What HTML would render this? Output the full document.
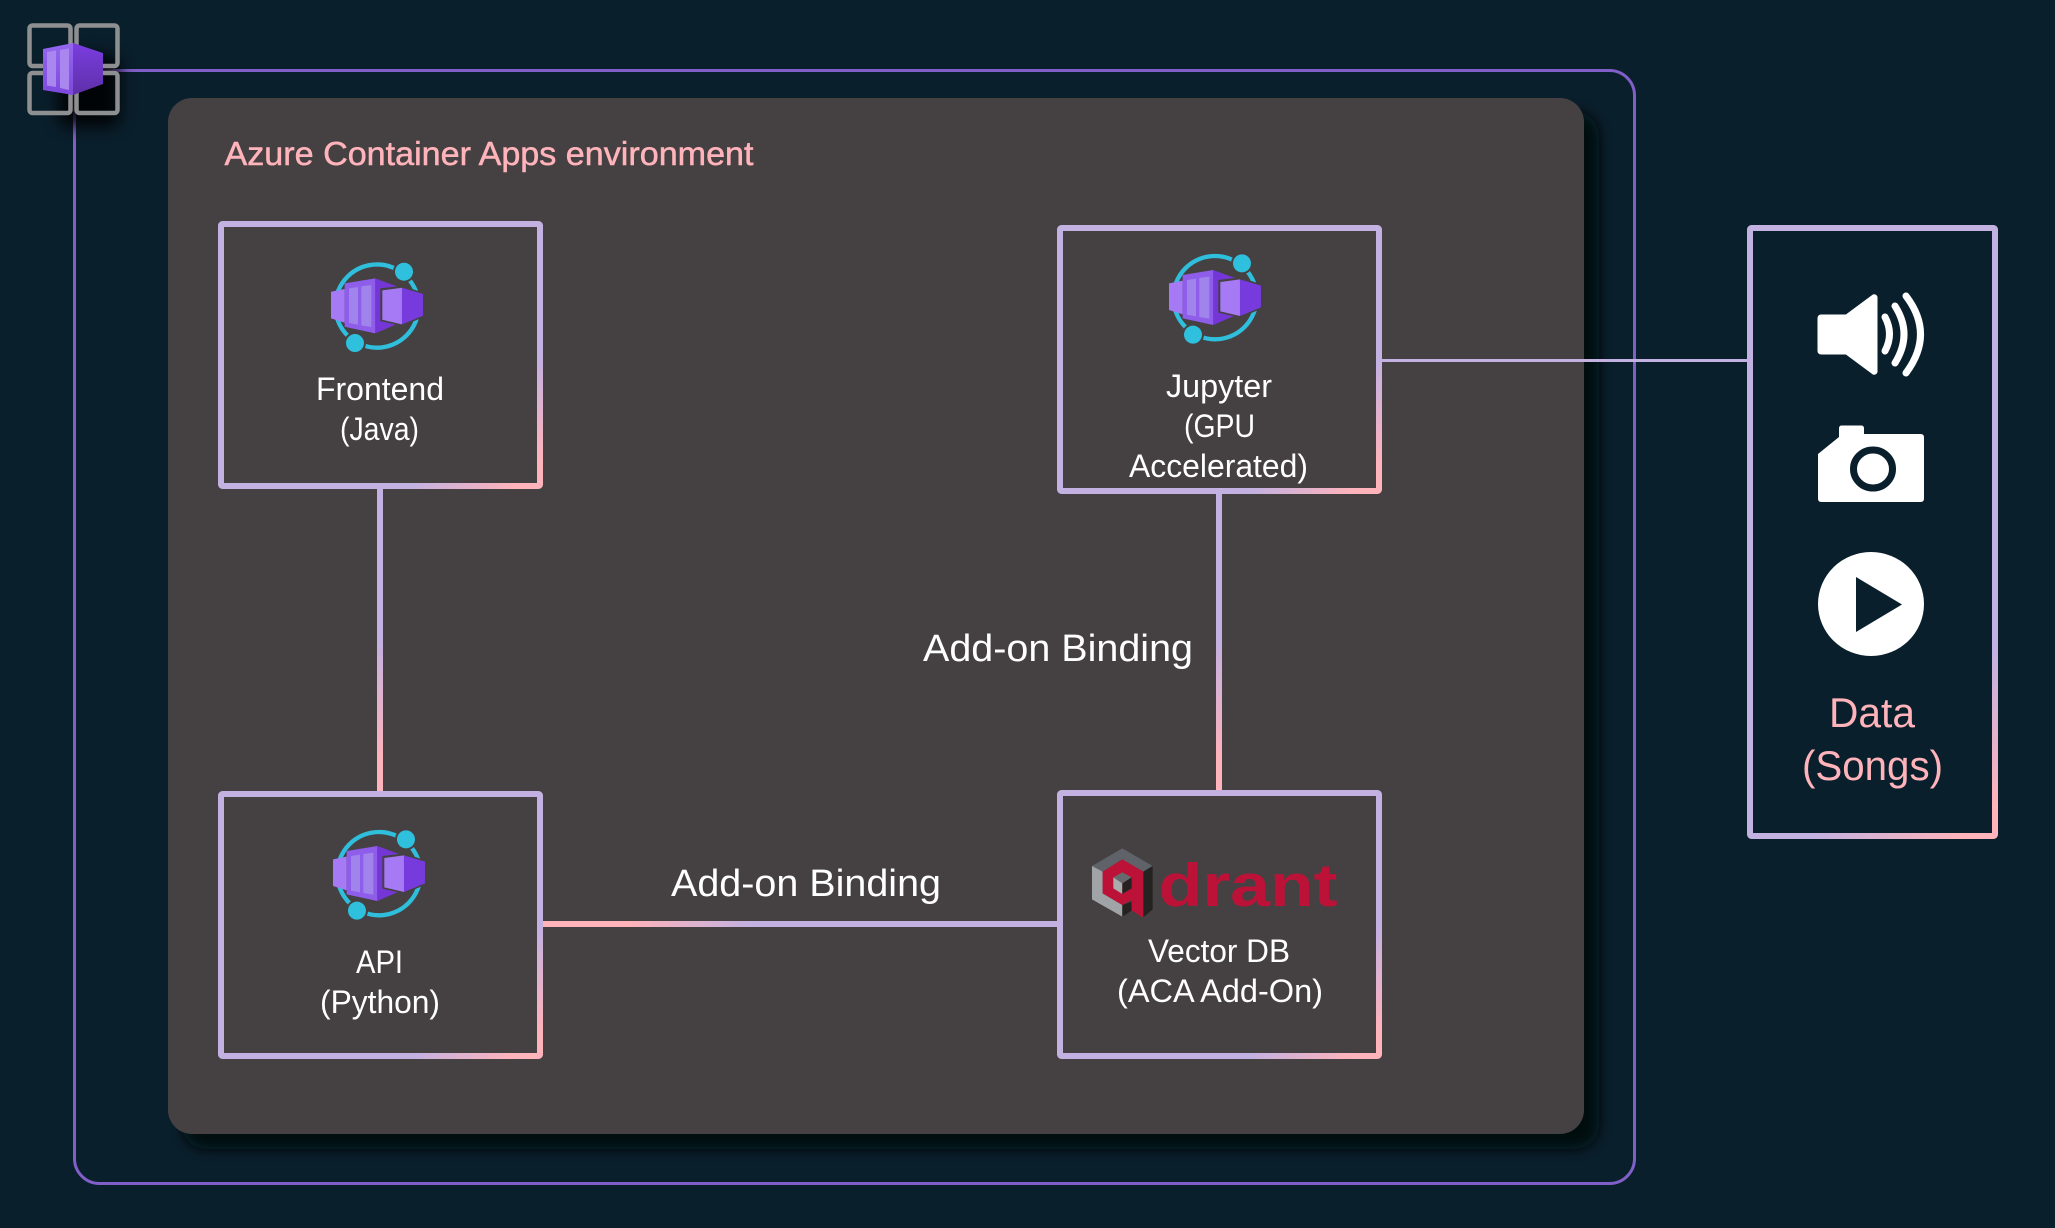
<!DOCTYPE html>
<html lang="en">
<head>
<meta charset="utf-8">
<title>Azure Container Apps environment</title>
<style>
html,body{margin:0;padding:0;background:#0a1f2c;}
svg{display:block;}
text{font-family:"Liberation Sans",sans-serif;}
.w{fill:#fff;font-size:32px;text-anchor:start;}
.p{fill:#ffb3ba;}
</style>
</head>
<body>
<svg xmlns="http://www.w3.org/2000/svg" width="2055" height="1228" viewBox="0 0 2055 1228">
<defs>
<linearGradient id="gF" gradientUnits="userSpaceOnUse" x1="449" y1="449" x2="501" y2="501"><stop offset="0" stop-color="#c3b1e1"/><stop offset="1" stop-color="#ffb3ba"/></linearGradient>
<linearGradient id="gJ" gradientUnits="userSpaceOnUse" x1="871" y1="871" x2="922" y2="922"><stop offset="0" stop-color="#c3b1e1"/><stop offset="1" stop-color="#ffb3ba"/></linearGradient>
<linearGradient id="gA" gradientUnits="userSpaceOnUse" x1="734" y1="734" x2="786" y2="786"><stop offset="0" stop-color="#c3b1e1"/><stop offset="1" stop-color="#ffb3ba"/></linearGradient>
<linearGradient id="gQ" gradientUnits="userSpaceOnUse" x1="1153" y1="1153" x2="1205" y2="1205"><stop offset="0" stop-color="#c3b1e1"/><stop offset="1" stop-color="#ffb3ba"/></linearGradient>
<linearGradient id="gD" gradientUnits="userSpaceOnUse" x1="1323" y1="1323" x2="1400" y2="1400"><stop offset="0" stop-color="#c3b1e1"/><stop offset="1" stop-color="#ffb3ba"/></linearGradient>
<linearGradient id="gV" x1="0" y1="0" x2="0" y2="1"><stop offset="0.5" stop-color="#c3b1e1"/><stop offset="0.9" stop-color="#ffb3ba"/></linearGradient>
<linearGradient id="gH" gradientUnits="userSpaceOnUse" x1="630" y1="0" x2="750" y2="0"><stop offset="0" stop-color="#ffb3ba"/><stop offset="1" stop-color="#c3b1e1"/></linearGradient>
<linearGradient id="face" x1="0" y1="0" x2="0" y2="1"><stop offset="0" stop-color="#9568f0"/><stop offset="1" stop-color="#7d48dc"/></linearGradient>
<linearGradient id="cube" x1="0" y1="0" x2="0" y2="1"><stop offset="0" stop-color="#7a3de0"/><stop offset="1" stop-color="#5e30a8"/></linearGradient>
<filter id="sh" x="-5%" y="-5%" width="110%" height="110%"><feGaussianBlur stdDeviation="6"/></filter>
<filter id="sh2" x="-60%" y="-60%" width="220%" height="220%"><feGaussianBlur stdDeviation="8"/></filter>
<g id="aca">
<circle cx="525" cy="233" r="125" fill="none" stroke="#2fbfdc" stroke-width="13"/>
<circle cx="606" cy="130" r="33" fill="#454142"/>
<circle cx="459" cy="344" r="33" fill="#454142"/>
<circle cx="606" cy="130" r="27" fill="#2fc0de"/>
<circle cx="459" cy="344" r="27" fill="#2fc0de"/>
<polygon points="387,190 428,182 428,283 387,270" fill="#a67af5"/>
<polygon points="428,165 520,150 520,315 428,295" fill="#8e5dea"/>
<polygon points="520,150 590,176 645,195 645,262 578,290 520,315" fill="#7436d6"/>
<polygon points="441,180 468,176 468,289 441,284" fill="#a084ec"/>
<polygon points="478,174 508,170 508,296 478,291" fill="#a084ec"/>
<polygon points="535,180 600,172 668,194 668,265 600,293 535,278" fill="#454142"/>
<polygon points="541,186 600,178 600,288 541,274" fill="#a67af5"/>
<polygon points="600,178 663,197 663,262 600,288" fill="#773adc"/>
</g>
</defs>

<rect width="2055" height="1228" fill="#0a1f2c"/>

<!-- outer frame -->
<rect x="74.500" y="70.500" width="1560" height="1113" rx="25" fill="none" stroke="#8060c8" stroke-width="3"/>

<!-- panel -->
<rect x="182" y="112" width="1417" height="1037" rx="24" fill="#040a0e" opacity="0.95" filter="url(#sh)"/>
<rect x="168" y="98" width="1416" height="1036" rx="24" fill="#454142"/>

<text x="224.500" y="165" class="p" font-size="33" textLength="529" lengthAdjust="spacingAndGlyphs" stroke="#ffb3ba" stroke-width="0.5">Azure Container Apps environment</text>

<!-- connectors -->
<rect x="377" y="489" width="6" height="302" fill="url(#gV)"/>
<rect x="1216" y="494" width="6" height="296" fill="url(#gV)"/>
<rect x="543" y="921" width="514" height="6" fill="url(#gH)"/>
<rect x="1382" y="359" width="365" height="3" fill="#c3b1e1"/>

<!-- boxes -->
<rect x="221" y="224" width="319" height="262" rx="1.500" fill="#454142" stroke="url(#gF)" stroke-width="6" stroke-linejoin="round"/>
<rect x="1060" y="228" width="319" height="263" rx="1.500" fill="#454142" stroke="url(#gJ)" stroke-width="6" stroke-linejoin="round"/>
<rect x="221" y="794" width="319" height="262" rx="1.500" fill="#454142" stroke="url(#gA)" stroke-width="6" stroke-linejoin="round"/>
<rect x="1060" y="793" width="319" height="263" rx="1.500" fill="#454142" stroke="url(#gQ)" stroke-width="6" stroke-linejoin="round"/>
<rect x="1750" y="228" width="245" height="608" rx="1.500" fill="#0a1f2c" stroke="url(#gD)" stroke-width="6" stroke-linejoin="round"/>

<!-- ACA icons -->
<use href="#aca" transform="translate(202,228.400) scale(0.3333)"/>
<use href="#aca" transform="translate(1040,220) scale(0.3333)"/>
<use href="#aca" transform="translate(204,796) scale(0.3333)"/>

<!-- box labels -->
<text x="316" y="400" class="w" textLength="128" lengthAdjust="spacingAndGlyphs">Frontend</text>
<text x="340" y="440" class="w" textLength="79" lengthAdjust="spacingAndGlyphs">(Java)</text>
<text x="1166" y="397" class="w" textLength="106" lengthAdjust="spacingAndGlyphs">Jupyter</text>
<text x="1184" y="437" class="w" textLength="71" lengthAdjust="spacingAndGlyphs">(GPU</text>
<text x="1129" y="477" class="w" textLength="179" lengthAdjust="spacingAndGlyphs">Accelerated)</text>
<text x="356" y="973" class="w" textLength="47" lengthAdjust="spacingAndGlyphs">API</text>
<text x="320" y="1013" class="w" textLength="120" lengthAdjust="spacingAndGlyphs">(Python)</text>
<text x="1148" y="962" class="w" textLength="142" lengthAdjust="spacingAndGlyphs">Vector DB</text>
<text x="1117" y="1002" class="w" textLength="206" lengthAdjust="spacingAndGlyphs">(ACA Add-On)</text>

<!-- connector labels -->
<text x="671" y="896" fill="#fff" font-size="38" textLength="270" lengthAdjust="spacingAndGlyphs">Add-on Binding</text>
<text x="923" y="661" fill="#fff" font-size="38" textLength="270" lengthAdjust="spacingAndGlyphs">Add-on Binding</text>

<!-- qdrant logo -->
<g transform="translate(1030,780) scale(0.3333)">
<polygon points="186,258 277,205 368,258 340,275 277,238 218,275" fill="#5f6369"/>
<polygon points="186,258 218,275 218,340 277,375 277,410 186,358" fill="#a0a4a6"/>
<polygon points="340,275 368,258 368,388 340,412" fill="#242322"/>
<polygon points="277,375 305,365 305,392 277,410" fill="#242322"/>
<polygon points="218,275 277,238 340,275 340,412 305,392 305,360 277,375 218,340" fill="#bd1238"/>
<polygon points="250,292 277,277 305,292 277,310" fill="#666a6e"/>
<polygon points="250,292 277,310 277,342 250,325" fill="#a9adae"/>
<polygon points="277,310 305,292 305,325 277,342" fill="#242322"/>
</g>
<text x="1158.500" y="906" fill="#bd1238" font-size="60" font-weight="bold" textLength="179" lengthAdjust="spacingAndGlyphs">drant</text>

<!-- data icons -->
<path d="M1818 318a3 3 0 0 1 3-3h25l27-20a3 3 0 0 1 4 2v75a3 3 0 0 1-4 2l-27-20h-25a3 3 0 0 1-3-3z" fill="#fff" stroke="#fff" stroke-width="1" stroke-linejoin="round"/>
<g fill="none" stroke="#fff" stroke-width="7" stroke-linecap="round">
<path d="M1885 317q9 17 0 34"/>
<path d="M1895 306q18 28 0 57"/>
<path d="M1906 296q29 38 0 77"/>
</g>
<path d="M1818 454l21-17v-9a2.500 2.500 0 0 1 2.500-2.500h20a2.500 2.500 0 0 1 2.500 2.500v6h57a3 3 0 0 1 3 3v62a3 3 0 0 1-3 3h-100a3 3 0 0 1-3-3z" fill="#fff"/>
<ellipse cx="1873" cy="469" rx="19.500" ry="19" fill="none" stroke="#0a1f2c" stroke-width="7"/>
<ellipse cx="1871" cy="604" rx="53" ry="52" fill="#fff"/>
<polygon points="1856,577 1902,604.500 1856,632" fill="#0a1f2c"/>

<text x="1829" y="727" class="p" font-size="42" textLength="86" lengthAdjust="spacingAndGlyphs">Data</text>
<text x="1802" y="780" class="p" font-size="42" textLength="141" lengthAdjust="spacingAndGlyphs">(Songs)</text>

<!-- top-left icon -->
<rect x="58" y="55" width="62" height="72" rx="12" fill="#000" opacity="0.85" filter="url(#sh2)"/>
<g fill="none" stroke="#8e8f90" stroke-width="4.500">
<rect x="29.500" y="25.500" width="41" height="40.500" rx="3"/>
<rect x="76.500" y="25.500" width="41" height="40.500" rx="3"/>
<rect x="29.500" y="73" width="41" height="40" rx="3"/>
<rect x="76.500" y="73" width="41" height="40" rx="3"/>
</g>
<polygon points="43,49 73,43 73,95 43,90" fill="url(#face)"/>
<polygon points="73,43 103,53 103,84 73,95" fill="url(#cube)"/>
<polygon points="47,52 56,50.500 56,87 47,85.500" fill="#a987ee"/>
<polygon points="60,50 69,48.500 69,90 60,88" fill="#a987ee"/>
</svg>
</body>
</html>
